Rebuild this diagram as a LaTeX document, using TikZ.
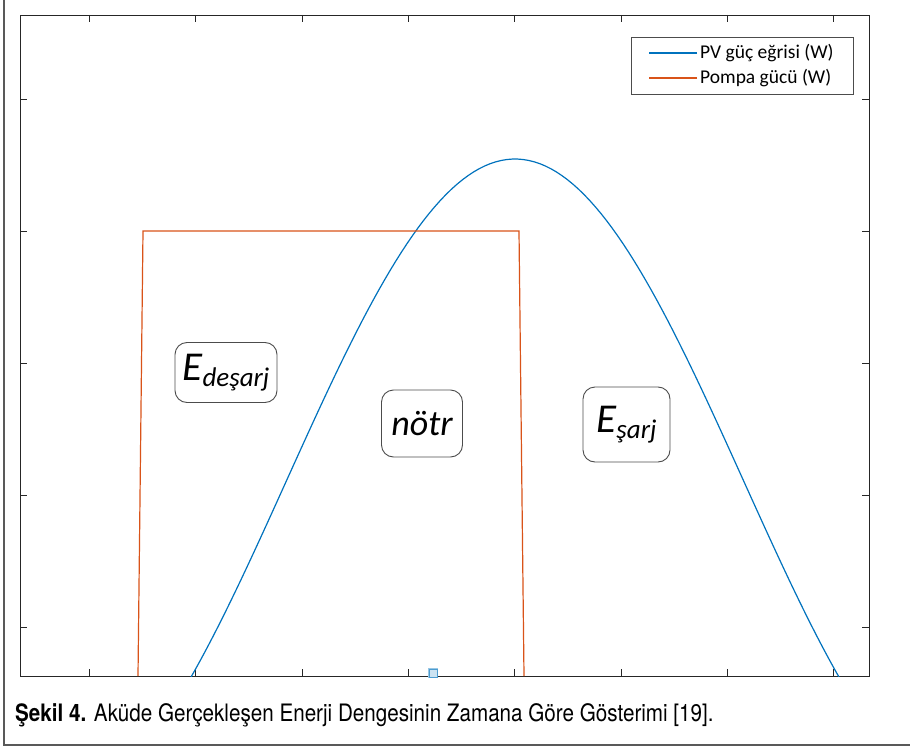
\documentclass[tikz,border=0pt]{standalone}
\usepackage{fontspec}
\setmainfont{TeX Gyre Heros}
\newfontfamily\calibri{Carlito}
\newfontfamily\capfont{TeX Gyre Heros}[FakeStretch=0.86]
\usetikzlibrary{positioning}
\definecolor{pvblue}{RGB}{0,114,189}
\definecolor{pompa}{RGB}{217,83,25}
\definecolor{axgray}{RGB}{38,38,38}

\begin{document}
\begin{tikzpicture}[x=1pt,y=-1pt,
    box/.style={draw=black!70, rounded corners=12pt, line width=0.9pt, inner sep=0pt, font=\calibri\itshape},
    legtext/.style={anchor=west, inner sep=0pt, font=\calibri\fontsize{19.5}{19.5}\selectfont}]
  \useasboundingbox (0,0) rectangle (910,749);

  %outer frame
  \draw[black!65, line width=1.6pt] (4,0) -- (4,745) -- (912,745);

  %axes
  \def\xl{20};
  \def\xr{869};
  \def\yt{15};
  \def\yb{676};
  \def\tk{7};
  \draw[axgray, line width=0.9pt] (\xl,\yt) rectangle (\xr,\yb);
    \foreach \tx in {89,195.5,302,408,514.5,621,727,833}{
         \draw[axgray, line width=0.8pt] (\tx,\yb) -- (\tx,\yb-\tk);
         \draw[axgray, line width=0.8pt] (\tx,\yt) -- (\tx,\yt+\tk);
    }
    \foreach \ty in {99,231,363,495,627}{
         \draw[axgray, line width=0.8pt] (\xl,\ty) -- (\xl+\tk,\ty);
         \draw[axgray, line width=0.8pt] (\xr,\ty) -- (\xr-\tk,\ty);
    }

  %curves
  \begin{scope}
    \clip (\xl,\yt) rectangle (\xr,\yb);
    \draw[pvblue, line width=1.2pt] plot[domain=-330:330, samples=120] ({515+\x},{\yb-(322*cos(0.3936*\x)+195)});
  \end{scope}
  \draw[pompa, line width=1.2pt] (138,\yb) -- (143,231) -- (519,231) -- (524,\yb);

  %data tip
  \draw[pvblue!40, line width=2.2pt] (429,669) rectangle (437,677);
  \draw[pvblue!70, fill=pvblue!20, line width=0.8pt] (429,669) rectangle (437,677);

  %labels
  \node[box, minimum width=102pt, minimum height=60pt] (edesarj) at (226,372.5)
       {\fontsize{41}{41}\selectfont E\raisebox{-6pt}{\fontsize{27}{27}\selectfont deşarj}};
  \node[box, minimum width=81pt, minimum height=67pt] (notr) at (422,423.5)
       {\fontsize{36}{36}\selectfont nötr};
  \node[box, minimum width=87pt, minimum height=75pt] (esarj) at (626.5,424.5)
       {\fontsize{41}{41}\selectfont E\raisebox{-6pt}{\fontsize{27}{27}\selectfont şarj}};

  %legend
  \draw[black!70, line width=0.8pt, fill=white] (631,37) rectangle (853,94);
  \node[legtext] (pvtext) at (700,53) {PV güç eğrisi (W)};
  \node[legtext] (pompatext) at (700,78) {Pompa gücü (W)};
  \draw[pvblue, line width=1.2pt] (pvtext.west) ++(-3pt,0) -- ++(-48pt,0);
  \draw[pompa, line width=1.2pt] (pompatext.west) ++(-3pt,0) -- ++(-48pt,0);

  %caption
  \node[anchor=base west, inner sep=0pt, font=\capfont\fontsize{24}{24}\selectfont] (caption) at (15,721)
       {\textbf{Şekil 4.} Aküde Gerçekleşen Enerji Dengesinin Zamana Göre Gösterimi [19].};
\end{tikzpicture}
\end{document}
